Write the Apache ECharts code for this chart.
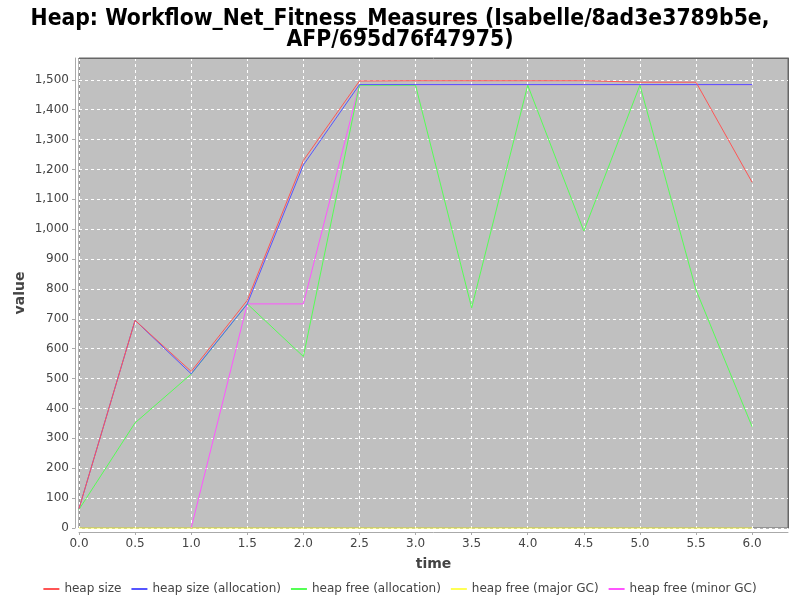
<!DOCTYPE html>
<html><head><meta charset="utf-8">
<script src="https://cdn.jsdelivr.net/npm/echarts@6/dist/echarts.min.js"></script>
<style>html,body{margin:0;padding:0;background:#fff}#c{width:800px;height:600px}</style>
</head><body><div id="c"></div>
<script>
var times = [0, 0.5, 1.0, 1.5, 2.0, 2.5, 3.0, 3.5, 4.0, 4.5, 5.0, 5.5, 6.0];
var heapSize = [65, 695, 524, 762, 1230, 1496, 1497, 1497, 1497, 1497, 1492, 1492, 1157];
var heapSizeAlloc = [65, 695, 516, 750, 1215, 1484, 1484, 1484, 1484, 1484, 1484, 1484, 1484];
var heapFreeAlloc = [62, 352, 515, 750, 574, 1482, 1482, 737, 1482, 994, 1482, 797, 339];
var heapFreeMajor = [0, 0, 0, 0, 0, 0, 0, 0, 0, 0, 0, 0, 0];
var heapFreeMinor = [null, null, 0, 750, 750, 1484, 1484, 1484, 1484, 1484, 1484, 1484, 1484];
var seriesNames = ['heap size', 'heap size (allocation)', 'heap free (allocation)', 'heap free (major GC)', 'heap free (minor GC)'];
var seriesColors = ['#ff5555', '#5555ff', '#55ff55', '#ffff55', '#ff55ff'];
var seriesData = [heapSize, heapSizeAlloc, heapFreeAlloc, heapFreeMajor, heapFreeMinor];

function pairs(arr) {
  var out = [];
  for (var i = 0; i < times.length; i++) {
    if (arr[i] !== null) out.push([times[i], arr[i]]);
  }
  return out;
}
var font = 'DejaVu Sans';
var X_MAX = 6.32, Y_MAX = 1573;
var chart = echarts.init(document.getElementById('c'), null, {renderer: 'canvas'});
var borderAxis = {
  show: true,
  axisLine: {show: true, onZero: false, lineStyle: {color: '#666', width: 1}},
  axisTick: {show: false}, axisLabel: {show: false}, splitLine: {show: false}
};
chart.setOption({
  animation: false,
  backgroundColor: '#ffffff',
  title: {
    text: 'Heap: Workflow_Net_Fitness_Measures (Isabelle/8ad3e3789b5e,\nAFP/695d76f47975)',
    left: 'center', top: 3,
    textStyle: {fontFamily: 'DejaVu Sans Condensed, DejaVu Sans', fontWeight: 'bold', fontSize: 22.7, lineHeight: 21.5, color: '#000'}
  },
  legend: {
    bottom: 0, left: 'center',
    itemWidth: 16, itemHeight: 2, itemGap: 10,
    icon: 'rect',
    textStyle: {fontFamily: font, fontSize: 12, color: '#444'},
    data: seriesNames
  },
  grid: {
    left: 79, right: 12, top: 58, bottom: 72,
    show: true, backgroundColor: '#c0c0c0', borderColor: '#666', borderWidth: 1
  },
  xAxis: [{
    type: 'value', min: 0, max: X_MAX, interval: 0.5,
    name: 'time', nameLocation: 'middle', nameGap: 25,
    nameTextStyle: {fontFamily: font, fontWeight: 'bold', fontSize: 14, color: '#444'},
    offset: 4,
    axisLine: {show: true, onZero: false, lineStyle: {color: '#aaa'}},
    axisTick: {show: true, length: 3, lineStyle: {color: '#aaa'}},
    axisLabel: {fontFamily: font, fontSize: 12, color: '#444', margin: 6, showMaxLabel: false,
      formatter: function (v) { return v.toFixed(1); }},
    splitLine: {show: true, lineStyle: {color: '#ffffff', type: [3, 3], width: 1}}
  }, Object.assign({type: 'value', min: 0, max: X_MAX, position: 'top'}, borderAxis)],
  yAxis: [{
    type: 'value', min: 0, max: Y_MAX, interval: 100,
    name: 'value', nameLocation: 'middle', nameGap: 48, nameRotate: 90, nameMoveOverlap: false,
    nameTextStyle: {fontFamily: font, fontWeight: 'bold', fontSize: 14, color: '#444'},
    offset: 4,
    axisLine: {show: true, onZero: false, lineStyle: {color: '#aaa'}},
    axisTick: {show: true, length: 3, lineStyle: {color: '#aaa'}},
    axisLabel: {fontFamily: font, fontSize: 12, color: '#444', margin: 6, showMaxLabel: false,
      formatter: function (v) { return v.toLocaleString('en-US'); }},
    splitLine: {show: true, lineStyle: {color: '#ffffff', type: [3, 3], width: 1}}
  }, Object.assign({type: 'value', min: 0, max: Y_MAX, position: 'right'}, borderAxis)],
  series: seriesNames.map(function (n, i) {
    return {
      name: n, type: 'line', data: pairs(seriesData[i]),
      symbol: 'none', showSymbol: false, clip: false,
      lineStyle: {color: seriesColors[i], width: 1},
      itemStyle: {color: seriesColors[i]},
      z: 10 - i
    };
  })
});
</script></body></html>
